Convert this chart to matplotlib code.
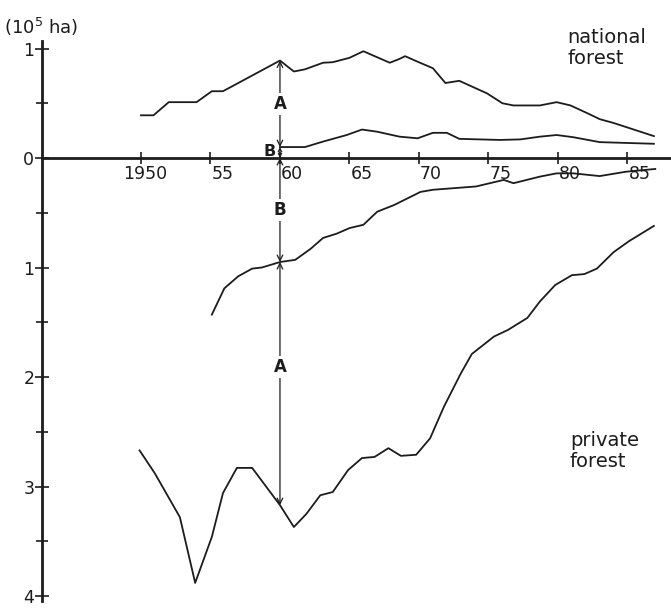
import numpy as np
import matplotlib
matplotlib.use("Agg")
import matplotlib.pyplot as plt

# national forest, upper curve (10^5 ha)
nat_top_years = [1950.0, 1950.9, 1952.0, 1954.0, 1955.1, 1955.9, 1958.1, 1960.0, 1961.0,
                 1961.8, 1963.1, 1963.8, 1965.0, 1966.0, 1967.9, 1968.6, 1969.0, 1969.8,
                 1971.0, 1971.9, 1972.9, 1974.9, 1976.0, 1976.8, 1978.7, 1979.9, 1980.9,
                 1982.1, 1983.0, 1984.0, 1986.9]
nat_top = [0.39, 0.39, 0.51, 0.51, 0.61, 0.61, 0.76, 0.89, 0.79,
           0.81, 0.87, 0.875, 0.915, 0.975, 0.87, 0.905, 0.93, 0.885,
           0.82, 0.685, 0.705, 0.59, 0.50, 0.48, 0.48, 0.51, 0.48,
           0.41, 0.355, 0.32, 0.20]

# national forest, lower curve
nat_low_years = [1960.0, 1961.8, 1963.1, 1964.8, 1965.9, 1967.0, 1968.6, 1969.9, 1971.0,
                 1972.0, 1972.9, 1975.8, 1977.3, 1978.7, 1979.9, 1981.1, 1983.0, 1986.9]
nat_low = [0.10, 0.10, 0.15, 0.21, 0.26, 0.24, 0.195, 0.18, 0.23,
           0.23, 0.175, 0.165, 0.17, 0.195, 0.21, 0.19, 0.145, 0.13]

# private forest, upper curve (magnitude, drawn below zero)
priv_up_years = [1955.1, 1956.0, 1957.0, 1958.0, 1958.7, 1960.0, 1961.1, 1962.2, 1963.1,
                 1964.1, 1965.0, 1966.0, 1967.0, 1968.2, 1970.1, 1971.0, 1974.1, 1975.1,
                 1976.1, 1976.8, 1978.7, 1979.9, 1981.1, 1983.0, 1984.9, 1987.0]
priv_up = [1.43, 1.19, 1.08, 1.01, 1.00, 0.95, 0.93, 0.83, 0.73,
           0.69, 0.64, 0.61, 0.49, 0.43, 0.31, 0.29, 0.26, 0.23,
           0.20, 0.23, 0.17, 0.14, 0.14, 0.165, 0.125, 0.10]

# private forest, lower curve
priv_low_years = [1949.9, 1951.0, 1952.8, 1953.9, 1955.1, 1955.9, 1956.9, 1958.0, 1960.0,
                  1961.0, 1961.9, 1962.9, 1963.8, 1964.9, 1965.9, 1966.8, 1967.8, 1968.7,
                  1969.8, 1970.8, 1971.8, 1973.0, 1973.8, 1975.4, 1976.4, 1977.8, 1978.7,
                  1979.8, 1981.0, 1981.9, 1982.8, 1984.0, 1985.1, 1986.9]
priv_low = [2.67, 2.88, 3.28, 3.88, 3.46, 3.06, 2.83, 2.83, 3.17,
            3.37, 3.25, 3.08, 3.05, 2.85, 2.74, 2.73, 2.65, 2.72,
            2.71, 2.56, 2.27, 1.97, 1.79, 1.63, 1.57, 1.46, 1.31,
            1.16, 1.07, 1.06, 1.01, 0.86, 0.76, 0.62]

x_ticks = [1950, 1955, 1960, 1965, 1970, 1975, 1980, 1985]
x_labels = ["1950", "55", "60", "65", "70", "75", "80", "85"]
y_ticks = [1, 0, -1, -2, -3, -4]
y_labels = ["1", "0", "1", "2", "3", "4"]
y_half = [0.5, -0.5, -1.5, -2.5, -3.5]

ink = "#1c1c1c"
plt.rcParams["font.family"] = ["DejaVu Sans"]
plt.rcParams["mathtext.fontset"] = "dejavusans"

fig = plt.figure(figsize=(6.71, 6.12), dpi=100)
ax = fig.add_axes([0, 0, 1, 1])
ax.set_xlim(1939.86, 1988.13)
ax.set_ylim(-4.146, 1.443)

y_axis_x = 1942.88
for side in ["top", "right"]:
    ax.spines[side].set_visible(False)
ax.spines["left"].set_position(("data", y_axis_x))
ax.spines["left"].set_bounds(-4.05, 1.07)
ax.spines["bottom"].set_position(("data", 0))
ax.spines["bottom"].set_bounds(y_axis_x, 1988.13)
for side in ["left", "bottom"]:
    ax.spines[side].set_linewidth(2.0)
    ax.spines[side].set_color(ink)

ax.set_xticks(x_ticks)
ax.tick_params(axis="x", direction="inout", length=8, width=1.2, color=ink, labelbottom=False)
ax.set_yticks(y_ticks)
ax.set_yticklabels(y_labels)
ax.set_yticks(y_half, minor=True)
ax.tick_params(axis="y", which="major", direction="inout", length=10, width=1.2,
               color=ink, labelsize=12.5, labelcolor=ink, pad=0.5)
ax.tick_params(axis="y", which="minor", direction="inout", length=8, width=1.2, color=ink)

for yr, lab in zip(x_ticks, x_labels):
    if lab == "1950":
        ax.annotate(lab, (yr, 0), xytext=(4, -7), textcoords="offset pixels",
                    ha="center", va="top", fontsize=12.5, color=ink)
    else:
        ax.annotate(lab, (yr, 0), xytext=(1, -7), textcoords="offset pixels",
                    ha="left", va="top", fontsize=12.5, color=ink)

ax.plot(nat_top_years, nat_top, color=ink, lw=1.3)
ax.plot(nat_low_years, nat_low, color=ink, lw=1.3)
ax.plot(priv_up_years, -np.array(priv_up), color=ink, lw=1.3)
ax.plot(priv_low_years, -np.array(priv_low), color=ink, lw=1.3)

# A / B arrows at 1960
ax_yr = 1960.0
v_nt = np.interp(ax_yr, nat_top_years, nat_top)
v_nl = np.interp(ax_yr, nat_low_years, nat_low)
v_pu = -np.interp(ax_yr, priv_up_years, priv_up)
v_pl = -np.interp(ax_yr, priv_low_years, priv_low)

arrows = [(v_nt, v_nl, "A", 0.5, 10), (v_pu, v_pl, "A", 0.43, 10),
          (0, v_pu, "B", 0.5, 10), (v_nl, 0, "", 0.5, 6)]
for top, bot, lab, frac, ms in arrows:
    ax.annotate("", xy=(ax_yr, bot), xytext=(ax_yr, top),
                arrowprops=dict(arrowstyle="<->", color=ink, lw=0.9,
                                shrinkA=0, shrinkB=0, mutation_scale=ms))
    if lab:
        ax.text(ax_yr, top + frac * (bot - top), lab, ha="center", va="center",
                fontsize=12, fontweight="bold", color=ink,
                bbox=dict(facecolor="white", edgecolor="none", pad=1.5))
ax.annotate("B", (ax_yr, v_nl / 2 + 0.005), xytext=(-4, 0), textcoords="offset pixels",
            ha="right", va="center", fontsize=11.5, fontweight="bold", color=ink)

ax.text(1980.65, 1.19, "national\nforest", ha="left", va="top", fontsize=14,
        color=ink, linespacing=1.15)
ax.text(1980.86, -2.49, "private\nforest", ha="left", va="top", fontsize=14,
        color=ink, linespacing=1.15)
ax.text(1942.8, 1.195, r"(10$^{5}$ ha)", ha="center", va="center", fontsize=13, color=ink)

fig.savefig("out.png", dpi=100)
